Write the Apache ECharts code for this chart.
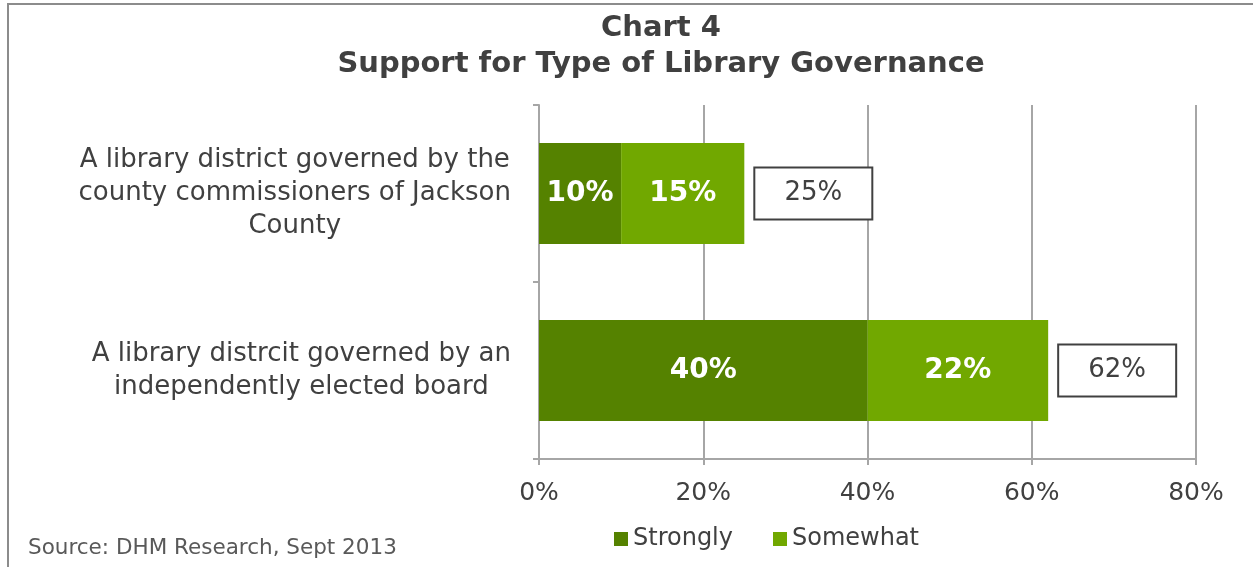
<!DOCTYPE html>
<html>
<head>
<meta charset="utf-8">
<script src="https://cdn.jsdelivr.net/npm/echarts@6/dist/echarts.min.js"></script>
<style>
html,body{margin:0;padding:0;background:#fff;}
#c{width:1253px;height:567px;}
</style>
</head>
<body>
<div id="c"></div>
<script>
const categories = [
  'A library district governed by the\ncounty commissioners of Jackson\nCounty',
  'A library distrcit governed by an\nindependently elected board'
];
const strongly = [10, 40];
const somewhat = [15, 22];
const totals = [25, 62];
const xTicks = [0, 20, 40, 60, 80];

const FONT = "'DejaVu Sans', Verdana, sans-serif";
const TXT = '#404040';
const GRID = '#A6A6A6';

const chart = echarts.init(document.getElementById('c'), null, {renderer: 'canvas'});
chart.setOption({
  animation: false,
  backgroundColor: '#fff',
  textStyle: {fontFamily: FONT},
  graphic: [{
    type: 'rect', silent: true, z: -10,
    shape: {x: 8, y: 4, width: 1300, height: 700},
    style: {fill: 'none', stroke: '#8C8C8C', lineWidth: 2}
  }, {
    type: 'text', left: 28, top: 537,
    style: {text: 'Source: DHM Research, Sept 2013', fontFamily: FONT, fontSize: 21.5, fill: '#595959'}
  }],
  title: {
    text: 'Chart 4\nSupport for Type of Library Governance',
    left: 656, top: 5, textAlign: 'center',
    textStyle: {fontFamily: FONT, fontWeight: 'bold', fontSize: 29, color: TXT, lineHeight: 36}
  },
  legend: {
    left: 609, top: 522, itemWidth: 14, itemHeight: 14, itemGap: 40,
    icon: 'rect',
    data: ['Strongly', 'Somewhat'],
    textStyle: {fontFamily: FONT, fontSize: 24, color: TXT}
  },
  grid: {left: 539, right: 57, top: 105, bottom: 108},
  xAxis: {
    type: 'value', min: 0, max: 80, interval: 20,
    axisLine: {show: true, lineStyle: {color: GRID, width: 2}},
    axisTick: {show: true, length: 6, lineStyle: {color: GRID, width: 2}},
    splitLine: {show: true, lineStyle: {color: GRID, width: 2}},
    axisLabel: {
      margin: 22, fontFamily: FONT, fontSize: 25, color: TXT,
      formatter: v => xTicks.includes(v) ? v + '%' : ''
    }
  },
  yAxis: {
    type: 'category', inverse: true, data: categories,
    axisLine: {show: true, lineStyle: {color: GRID, width: 2}},
    axisTick: {show: true, length: 6, lineStyle: {color: GRID, width: 2}},
    axisLabel: {
      margin: 28, align: 'right',
      formatter: v => '{a|' + v + '}',
      rich: {a: {align: 'center', fontFamily: FONT, fontSize: 26, color: TXT, lineHeight: 33}}
    }
  },
  series: [{
    name: 'Strongly', type: 'bar', stack: 't', data: strongly, barWidth: '57%',
    itemStyle: {color: '#558200'},
    label: {show: true, position: 'inside', formatter: '{c}%', color: '#fff', fontWeight: 'bold', fontSize: 28, fontFamily: FONT}
  }, {
    name: 'Somewhat', type: 'bar', stack: 't', data: somewhat, barWidth: '57%',
    itemStyle: {color: '#71A800'},
    label: {show: true, position: 'inside', formatter: '{c}%', color: '#fff', fontWeight: 'bold', fontSize: 28, fontFamily: FONT}
  }, {
    name: 'Total', type: 'scatter', symbolSize: 0,
    itemStyle: {opacity: 1},
    data: totals.map((t, i) => [t, i]),
    label: {
      show: true, position: 'right', distance: 11,
      formatter: p => '{b|' + p.value[0] + '%}',
      backgroundColor: '#fff', borderColor: '#404040', borderWidth: 2,
      rich: {b: {width: 116, height: 50, lineHeight: 50, align: 'center', fontFamily: FONT, fontSize: 26, color: TXT}}
    }
  }]
});
</script>
</body>
</html>
